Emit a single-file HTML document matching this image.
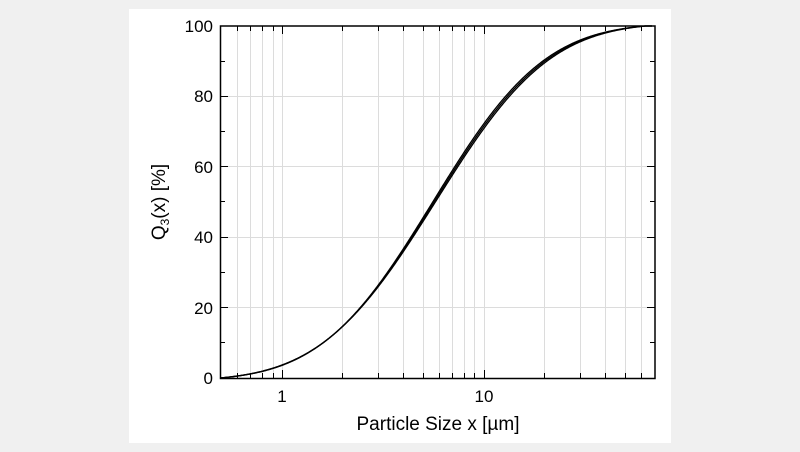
<!DOCTYPE html>
<html><head><style>body{margin:0;background:#f0f0f0;}svg{display:block;font-family:"Liberation Sans",Arial,sans-serif;}</style></head>
<body>
<svg width="800" height="452" xmlns="http://www.w3.org/2000/svg">
<rect width="800" height="452" fill="#f0f0f0"/>
<rect x="129" y="9" width="542" height="434" fill="#fff"/>
<g stroke="#dcdcdc" stroke-width="1">
<path d="M237.5 26V378M250.5 26V378M262.5 26V378M273.5 26V378M282.5 26V378M342.5 26V378M378.5 26V378M403.5 26V378M423.5 26V378M439.5 26V378M452.5 26V378M464.5 26V378M474.5 26V378M484.5 26V378M544.5 26V378M580.5 26V378M605.5 26V378M625.5 26V378M641.5 26V378"/>
<path d="M220 307.5H655M220 237.5H655M220 166.5H655M220 96.5H655"/>
</g>
<g stroke="#000" stroke-width="1.3" fill="none">
<path id="c1" d="M220 378L250 373L282 363L320 343L343 323L377 287L407 240L430 197L453 163L483 130L517 97L543 73L577 47L610 32L643 26L651 26"/>
<path id="c2" d=""/>
<path id="c3" d=""/>
</g>
<g stroke="#000" stroke-width="1">
<path d="M237.5 378v-5M250.5 378v-5M262.5 378v-5M273.5 378v-5M282.5 378v-8M342.5 378v-5M378.5 378v-5M403.5 378v-5M423.5 378v-5M439.5 378v-5M452.5 378v-5M464.5 378v-5M474.5 378v-5M484.5 378v-8M544.5 378v-5M580.5 378v-5M605.5 378v-5M625.5 378v-5M641.5 378v-5"/>
<path d="M237.5 26v5M250.5 26v5M262.5 26v5M273.5 26v5M282.5 26v8M342.5 26v5M378.5 26v5M403.5 26v5M423.5 26v5M439.5 26v5M452.5 26v5M464.5 26v5M474.5 26v5M484.5 26v8M544.5 26v5M580.5 26v5M605.5 26v5M625.5 26v5M641.5 26v5"/>
<path d="M220 307.5h8M220 237.5h8M220 166.5h8M220 96.5h8M220 342.5h5M220 272.5h5M220 201.5h5M220 131.5h5M220 61.5h5"/>
<path d="M655 307.5h-8M655 237.5h-8M655 166.5h-8M655 96.5h-8M655 342.5h-5M655 272.5h-5M655 201.5h-5M655 131.5h-5M655 61.5h-5"/>
</g>
<rect x="220.5" y="26" width="434.5" height="352.5" fill="none" stroke="#000" stroke-width="1.5"/>
<g font-size="17" text-anchor="end" fill="#000">
<text x="213" y="384">0</text><text x="213" y="314">20</text><text x="213" y="243">40</text><text x="213" y="173">60</text><text x="213" y="102">80</text><text x="213" y="32">100</text>
</g>
<g font-size="17" text-anchor="middle"><text x="282" y="402">1</text><text x="484" y="402">10</text></g>
<text x="438" y="430" font-size="19" text-anchor="middle">Particle Size x [µm]</text>
<text transform="translate(165,202) rotate(-90)" font-size="19" text-anchor="middle">Q<tspan font-size="12" dy="4">3</tspan><tspan dy="-4">(x) [%]</tspan></text>
</svg>
<script>
function erf(x){var s=x<0?-1:1;x=Math.abs(x);var t=1/(1+0.3275911*x);
var y=1-(((((1.061405429*t-1.453152027)*t)+1.421413741)*t-0.284496736)*t+0.254829592)*t*Math.exp(-x*x);return s*y;}
function Q(X,u0,s){var u=(X-282)/201.5;return 0.5*(1+erf((u-u0)/s/Math.SQRT2));}
function path(u0,s,dy){var q0=Q(220,u0,s),q1=Q(645,u0,s);var d="";for(var X=220;X<=652;X+=1){var q=(Q(X,u0,s)-q0)/(q1-q0);if(q>1)q=1;
var Y=378-q*352+dy*Math.sin(q*Math.PI);d+=(X==220?"M":"L")+X+" "+Y.toFixed(2);}return d;}
document.getElementById("c1").setAttribute("d",path(0.755,0.4425,0));
document.getElementById("c2").setAttribute("d",path(0.752,0.437,-1.2));
document.getElementById("c3").setAttribute("d",path(0.758,0.448,1.2));
</script>
</body></html>
